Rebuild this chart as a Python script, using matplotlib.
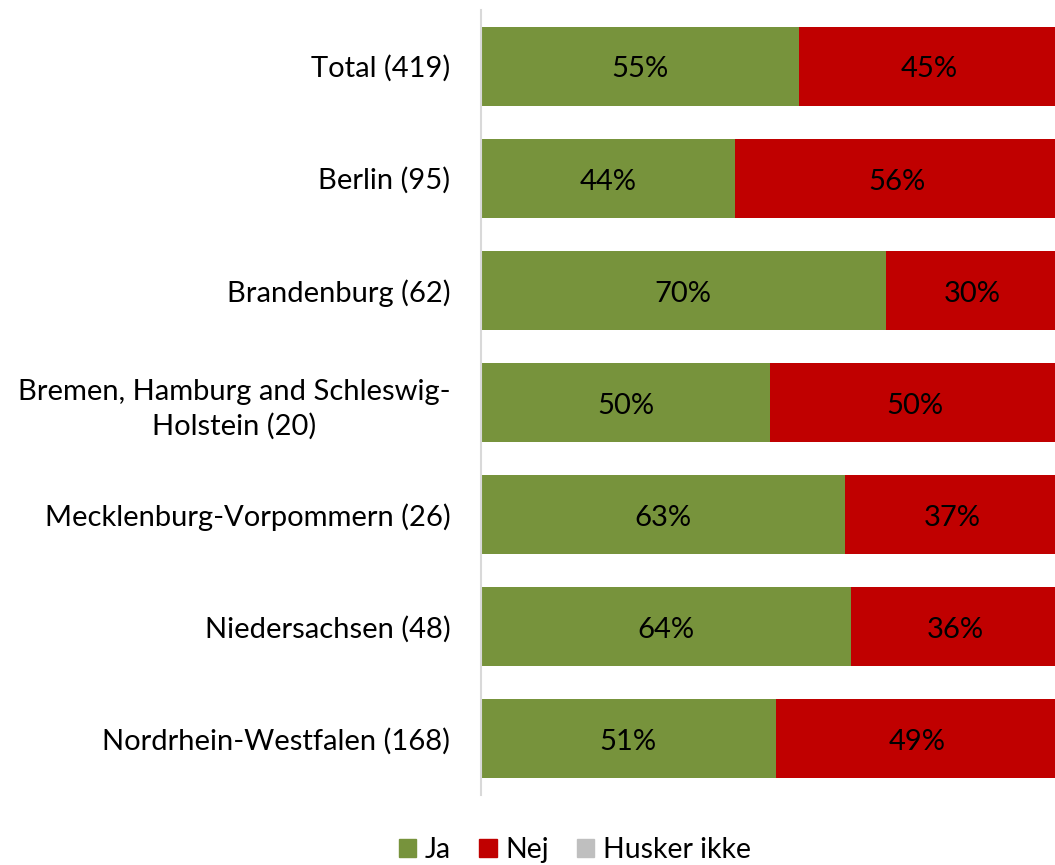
import matplotlib.pyplot as plt
from matplotlib.patches import Patch

plt.rcParams['font.family'] = ['Lato', 'DejaVu Sans']

# Share answering Ja / Nej per region
regions = ['Total (419)', 'Berlin (95)', 'Brandenburg (62)',
           'Bremen, Hamburg and Schleswig-\nHolstein (20)',
           'Mecklenburg-Vorpommern (26)', 'Niedersachsen (48)',
           'Nordrhein-Westfalen (168)']
ja = [55, 44, 70, 50, 63, 64, 51]
nej = [45, 56, 30, 50, 37, 36, 49]
husker_ikke = [0, 0, 0, 0, 0, 0, 0]

green = '#77933C'
red = '#C00000'
grey = '#BFBFBF'

fig = plt.figure(figsize=(10.55, 8.65), dpi=100)
ax = fig.add_axes([481 / 1055, 1 - 795 / 865, 578 / 1055, 785 / 865])

y = list(range(len(regions)))
ax.barh(y, ja, height=0.705, color=green)
ax.barh(y, nej, left=ja, height=0.705, color=red)
left2 = [a + b for a, b in zip(ja, nej)]
ax.barh(y, husker_ikke, left=left2, height=0.705, color=grey)

for i in y:
    ax.text(ja[i] / 2, i + 0.03, f'{ja[i]}%', ha='center', va='center', fontsize=21)
    ax.text(ja[i] + nej[i] / 2, i + 0.03, f'{nej[i]}%', ha='center', va='center', fontsize=21)

ax.set_xlim(0, 100)
ax.set_ylim(len(regions) - 0.5, -0.5)
ax.set_yticks(y)
ax.set_yticklabels(regions, fontsize=21, linespacing=1.4, multialignment='center')
ax.tick_params(axis='y', length=0, pad=22)
ax.set_xticks([])
for s in ['top', 'right', 'bottom']:
    ax.spines[s].set_visible(False)
ax.spines['left'].set_color('#D9D9D9')
ax.spines['left'].set_linewidth(1.5)

handles = [Patch(color=green, label='Ja'), Patch(color=red, label='Nej'),
           Patch(color=grey, label='Husker ikke')]
fig.legend(handles=handles, loc='center', bbox_to_anchor=(575 / 1055, 1 - 850 / 865),
           ncol=3, frameon=False, fontsize=20.5, handlelength=0.6, handleheight=0.6,
           handletextpad=0.3, columnspacing=1.0)

fig.savefig('out.png', dpi=100)
